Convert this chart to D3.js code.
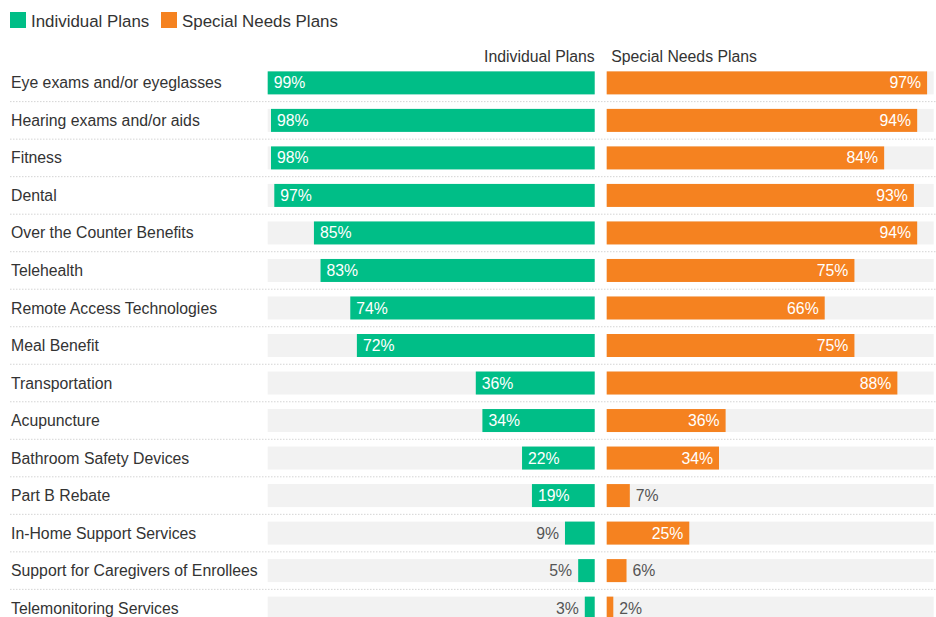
<!DOCTYPE html>
<html><head><meta charset="utf-8">
<script src="https://cdn.jsdelivr.net/npm/d3@7"></script>
<style>body{margin:0;background:#fff;} svg{display:block;font-family:"Liberation Sans",Arial,sans-serif;}</style>
</head><body><svg id="c" width="936" height="617"></svg>
<script>
const categories = ["Eye exams and/or eyeglasses","Hearing exams and/or aids","Fitness","Dental","Over the Counter Benefits","Telehealth","Remote Access Technologies","Meal Benefit","Transportation","Acupuncture","Bathroom Safety Devices","Part B Rebate","In-Home Support Services","Support for Caregivers of Enrollees","Telemonitoring Services"];
const individualPlans = [99,98,98,97,85,83,74,72,36,34,22,19,9,5,3];
const specialNeedsPlans = [97,94,84,93,94,75,66,75,88,36,34,7,25,6,2];
const seriesNames = ["Individual Plans","Special Needs Plans"];
const colors = ["#00be87","#f58220"];

const svg = d3.select("#c");
const fs = 15.8;
const leftX0 = 267.7, leftX1 = 594.7, rightX0 = 606.7;
const maxV = d3.max(individualPlans.concat(specialNeedsPlans));
const wScale = d3.scaleLinear().domain([0, maxV]).range([0, leftX1 - leftX0]);
const y = d3.scaleBand().domain(categories).range([64.25, 64.25 + 37.5*categories.length]).paddingInner(0.387).paddingOuter(0.19);
const step = y.step();

// legend
const leg = svg.append("g");
const legX = [10, 161];
seriesNames.forEach((n,i)=>{
  leg.append("rect").attr("x",legX[i]).attr("y",12).attr("width",16).attr("height",16).attr("fill",colors[i]);
  leg.append("text").attr("x",legX[i]+21).attr("y",26.5).attr("font-size",16.9).attr("fill","#333").text(n);
});
// headers
svg.append("text").attr("x",leftX1).attr("y",61.5).attr("text-anchor","end").attr("font-size",fs).attr("fill","#333").text(seriesNames[0]);
svg.append("text").attr("x",rightX0+4.5).attr("y",61.5).attr("font-size",fs).attr("fill","#333").text(seriesNames[1]);

const rows = svg.append("g").selectAll("g").data(categories).join("g");
// separators
rows.filter((d,i)=>i<categories.length-1).append("line")
  .attr("x1",10).attr("x2",936)
  .attr("y1",d=>y(d)+y.bandwidth()+(step-y.bandwidth())/2)
  .attr("y2",d=>y(d)+y.bandwidth()+(step-y.bandwidth())/2)
  .attr("stroke","#d4d4d4").attr("stroke-width",1).attr("stroke-dasharray","1.5,1.5");
// labels
rows.append("text").attr("x",11).attr("y",d=>y(d)+y.bandwidth()/2).attr("dy","0.35em")
  .attr("font-size",fs).attr("fill","#333").text(d=>d);
// backgrounds
rows.append("rect").attr("x",leftX0).attr("y",d=>y(d)).attr("width",wScale(maxV)).attr("height",y.bandwidth()).attr("fill","#f2f2f2");
rows.append("rect").attr("x",rightX0).attr("y",d=>y(d)).attr("width",wScale(maxV)).attr("height",y.bandwidth()).attr("fill","#f2f2f2");
// bars
rows.append("rect").attr("x",(d,i)=>leftX1-wScale(individualPlans[i])).attr("y",d=>y(d))
  .attr("width",(d,i)=>wScale(individualPlans[i])).attr("height",y.bandwidth()).attr("fill",colors[0]);
rows.append("rect").attr("x",rightX0).attr("y",d=>y(d))
  .attr("width",(d,i)=>wScale(specialNeedsPlans[i])).attr("height",y.bandwidth()).attr("fill",colors[1]);
// value labels
const thr = 40;
rows.append("text").attr("y",d=>y(d)+y.bandwidth()/2).attr("dy","0.35em").attr("font-size",fs)
  .each(function(d,i){
    const w = wScale(individualPlans[i]);
    const t = d3.select(this).text(individualPlans[i]+"%");
    if (w > thr) t.attr("x",leftX1-w+6).attr("text-anchor","start").attr("fill","#fff");
    else t.attr("x",leftX1-w-6).attr("text-anchor","end").attr("fill","#555");
  });
rows.append("text").attr("y",d=>y(d)+y.bandwidth()/2).attr("dy","0.35em").attr("font-size",fs)
  .each(function(d,i){
    const w = wScale(specialNeedsPlans[i]);
    const t = d3.select(this).text(specialNeedsPlans[i]+"%");
    if (w > thr) t.attr("x",rightX0+w-6).attr("text-anchor","end").attr("fill","#fff");
    else t.attr("x",rightX0+w+6).attr("text-anchor","start").attr("fill","#555");
  });
</script></body></html>
